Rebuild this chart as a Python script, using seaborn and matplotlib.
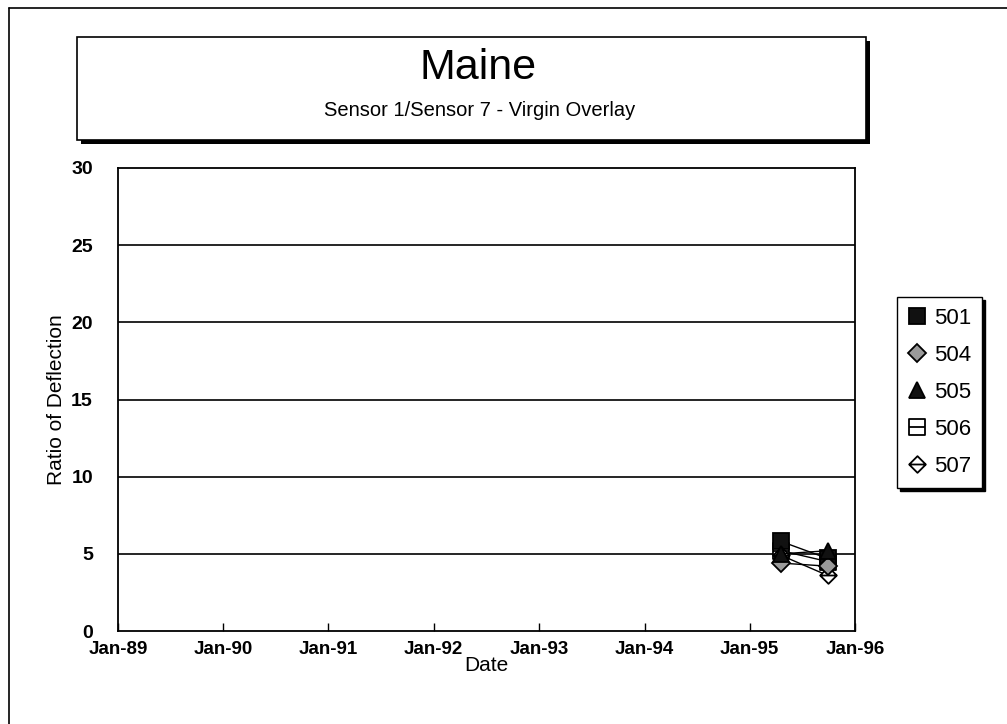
import numpy as np
import pandas as pd
import matplotlib
matplotlib.use("Agg")
import matplotlib.pyplot as plt
import matplotlib.dates as mdates
from matplotlib.path import Path
from matplotlib.patches import Rectangle
from matplotlib.lines import Line2D
import seaborn as sns

# ---------------- data ----------------
sections = ["501", "504", "505", "506", "507"]
survey_dates = ["1995-04-20", "1995-09-28"]
ratio_501 = [5.8, 4.7]
ratio_504 = [4.4, 4.2]
ratio_505 = [5.0, 5.2]
ratio_506 = [5.2, 4.5]
ratio_507 = [4.9, 3.6]
tick_years = ["1989", "1990", "1991", "1992", "1993", "1994", "1995", "1996"]
y_ticks = [0, 5, 10, 15, 20, 25, 30]

values = {"501": ratio_501, "504": ratio_504, "505": ratio_505,
          "506": ratio_506, "507": ratio_507}
rows = []
for s in sections:
    for d, v in zip(survey_dates, values[s]):
        rows.append({"section": s, "date": pd.Timestamp(d), "ratio": v})
df = pd.DataFrame(rows)

# ---------------- style ----------------
sns.set_theme(style="white")
plt.rcParams["font.family"] = ["Liberation Sans", "DejaVu Sans"]
plt.rcParams["text.color"] = "black"
plt.rcParams["axes.labelcolor"] = "black"
plt.rcParams["xtick.color"] = "black"
plt.rcParams["ytick.color"] = "black"

sq_line = Path([(-1, -1), (1, -1), (1, 1), (-1, 1), (-1, -1), (-1, 0), (1, 0)],
               [Path.MOVETO, Path.LINETO, Path.LINETO, Path.LINETO, Path.CLOSEPOLY,
                Path.MOVETO, Path.LINETO])
dia_line = Path([(0, -1), (1, 0), (0, 1), (-1, 0), (0, -1), (-1, 0), (1, 0)],
                [Path.MOVETO, Path.LINETO, Path.LINETO, Path.LINETO, Path.CLOSEPOLY,
                 Path.MOVETO, Path.LINETO])

marker_style = {
    "501": dict(marker="s", mfc="#111111", mec="black", ms=11),
    "504": dict(marker="D", mfc="#9a9a9a", mec="black", ms=9),
    "505": dict(marker="^", mfc="#111111", mec="black", ms=12),
    "506": dict(marker=sq_line, mfc="white", mec="black", ms=12),
    "507": dict(marker=dia_line, mfc="white", mec="black", ms=12),
}
draw_order = ["506", "501", "507", "504", "505"]

W, H = 1007, 724
fig = plt.figure(figsize=(W / 100, H / 100), dpi=100)

def fx(px):
    return px / W

def fy(py):
    return 1 - py / H

# outer frame (left and top lines)
fig.add_artist(Line2D([fx(9), fx(9)], [fy(8), 0], color="black", lw=1.2,
                      transform=fig.transFigure))
fig.add_artist(Line2D([fx(9), 1], [fy(8), fy(8)], color="black", lw=1.2,
                      transform=fig.transFigure))

# title box with shadow
bx0, bx1, by0, by1 = 77, 866, 37, 140
fig.add_artist(Rectangle((fx(bx0 + 4), fy(by1 + 4)), fx(bx1 - bx0), (by1 - by0) / H,
                         transform=fig.transFigure, facecolor="black",
                         edgecolor="none", zorder=1))
fig.add_artist(Rectangle((fx(bx0), fy(by1)), fx(bx1 - bx0), (by1 - by0) / H,
                         transform=fig.transFigure, facecolor="white",
                         edgecolor="black", lw=1.2, zorder=2))
fig.text(fx(478), fy(68), "Maine", ha="center", va="center",
         fontsize=31, zorder=3)
fig.text(fx(480), fy(110), "Sensor 1/Sensor 7 - Virgin Overlay",
         ha="center", va="center", fontsize=14.5, zorder=3)

# axes
ax = fig.add_axes([fx(118), fy(631), fx(855 - 118), (631 - 168) / H])
for s in draw_order:
    sub = df[df["section"] == s]
    st = marker_style[s]
    sns.lineplot(data=sub, x="date", y="ratio", ax=ax, color="black", lw=1,
                 marker=st["marker"], markersize=st["ms"],
                 markerfacecolor=st["mfc"], markeredgecolor=st["mec"],
                 markeredgewidth=1.3, legend=False, zorder=3)

ax.set_xlim(pd.Timestamp("1989-01-01"), pd.Timestamp("1996-01-01"))
ax.set_ylim(0, 30)
ax.set_yticks(y_ticks)
ax.set_xticks([pd.Timestamp(f"{y}-01-01") for y in tick_years])
ax.xaxis.set_major_formatter(mdates.DateFormatter("%b-%y"))
ax.tick_params(axis="x", direction="in", length=6, width=1, color="black",
               labelsize=13.5, pad=7, bottom=True)
ax.tick_params(axis="y", length=0, labelsize=14, pad=18)
for lab in ax.get_xticklabels() + ax.get_yticklabels():
    lab.set_fontweight("bold")
for yv in y_ticks[1:-1]:
    ax.axhline(yv, color="black", lw=1.2, zorder=1)
for sp in ax.spines.values():
    sp.set_color("black")
    sp.set_linewidth(1.3)
ax.set_xlabel("Date", fontsize=15, labelpad=-1)
ax.set_ylabel("Ratio of Deflection", fontsize=15, labelpad=4)

# legend
handles = []
for s in sections:
    st = marker_style[s]
    handles.append(Line2D([], [], linestyle="none", marker=st["marker"],
                          markersize=st["ms"], markerfacecolor=st["mfc"],
                          markeredgecolor=st["mec"], markeredgewidth=1.3))
leg = fig.legend(handles, sections, loc="upper left",
                 bbox_to_anchor=(fx(897), fy(297)), frameon=True, fancybox=False,
                 shadow={"color": "black", "alpha": 1}, fontsize=16,
                 handlelength=0.8, handletextpad=0.35, labelspacing=0.72,
                 borderpad=0.5, borderaxespad=0)
leg.get_frame().set_edgecolor("black")
leg.get_frame().set_linewidth(1.0)

fig.savefig("out.png", dpi=100, facecolor="white")
